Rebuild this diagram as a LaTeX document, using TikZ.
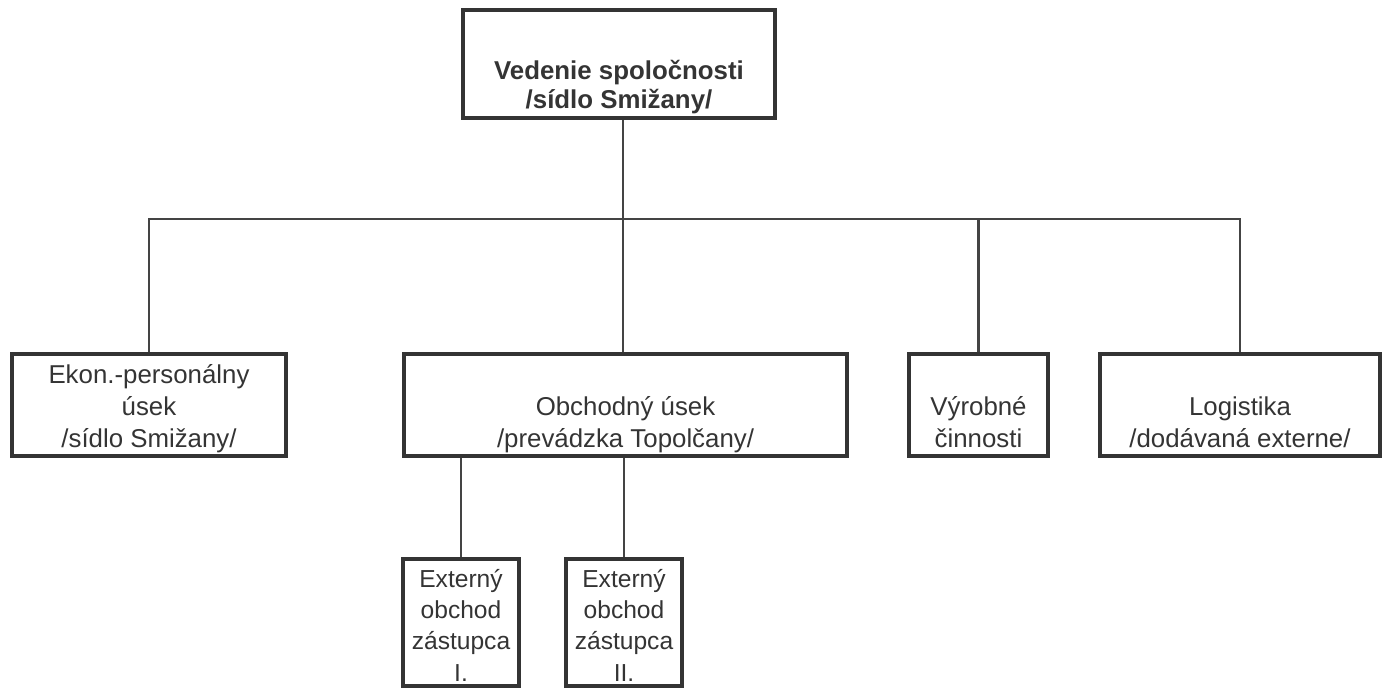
\documentclass[tikz,border=0pt]{standalone}
\usepackage{fontspec}
\setmainfont{Liberation Sans}
\usepackage{tikz}
\usetikzlibrary{positioning}
\definecolor{ink}{RGB}{52,52,52}
\definecolor{wire}{RGB}{68,68,68}

\begin{document}
\begin{tikzpicture}[
    x=0.02cm, y=-0.02cm,
    unit/.style={rectangle, draw=ink, line width=2.2pt, inner sep=0pt, align=center, text=ink, anchor=base, font=\fontsize{14.7}{18}\selectfont},
    head/.style={unit, font=\fontsize{14.7}{16}\selectfont\bfseries, minimum width=6.25cm, text height=1.96cm, text depth=0.2cm},
    dept/.style={unit, text height=1.86cm, text depth=0.18cm},
    agent/.style={unit, font=\fontsize{14}{17.8}\selectfont, minimum width=2.33cm, text height=2.44cm, text depth=0.1cm},
    link/.style={draw=wire, line width=1.2pt}
]
    \useasboundingbox (0,0) rectangle (1385,690);

    % Company management
    \node[head] (vedenie) at (619,108) {Vedenie spoločnosti\\/sídlo Smižany/};

    % Departments
    \node[dept, minimum width=5.49cm] (ekon) at (149,447) {Ekon.-personálny\\úsek\\/sídlo Smižany/};
    \node[dept, minimum width=8.87cm] (obchod) at (625.5,447) {Obchodný úsek\\/prevádzka Topolčany/};
    \node[dept, minimum width=2.79cm] (vyroba) at (978.5,447) {Výrobné\\činnosti};
    \node[dept, minimum width=5.61cm] (logistika) at (1240,447) {Logistika\\/dodávaná externe/};

    % External sales agents
    \node[agent] (ext1) at (461,681) {Externý\\obchod\\zástupca\\I.};
    \node[agent] (ext2) at (624,681) {Externý\\obchod\\zástupca\\II.};

    % Connections
    \coordinate (fork) at (623,219);
    \draw[link] (vedenie.south -| fork) -- (fork);
    \draw[link] (ekon.north) |- (fork) -| (logistika.north);
    \draw[link] (obchod.north -| fork) -- (fork);
    \draw[link] (vyroba.north) -- (vyroba.north |- fork);
    \draw[link] (ext1.north) -- (ext1.north |- obchod.south);
    \draw[link] (ext2.north) -- (ext2.north |- obchod.south);
\end{tikzpicture}
\end{document}
